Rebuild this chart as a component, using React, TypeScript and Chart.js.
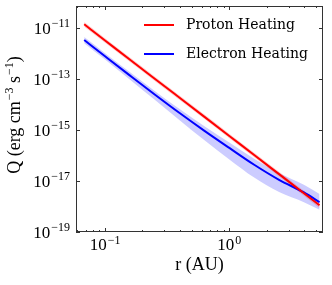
import React, { useEffect, useRef } from "react";
import { Chart, registerables } from "chart.js";

Chart.register(...registerables);

// heliocentric distance (AU)
const radius = [0.068, 0.1, 0.158, 0.251, 0.398, 0.631, 1.0, 1.585, 2.512, 3.981, 5.32];

// heating rates (erg cm^-3 s^-1)
const protonHeating = [1.43e-11, 3.33e-12, 5.92e-13, 1.05e-13, 1.87e-14, 3.33e-15, 5.92e-16, 1.05e-16, 1.87e-17, 3.33e-18, 1.12e-18];
const protonUpper = [1.76e-11, 4.1e-12, 7.28e-13, 1.29e-13, 2.3e-14, 4.1e-15, 7.28e-16, 1.29e-16, 2.3e-17, 4.19e-18, 1.48e-18];
const protonLower = [1.16e-11, 2.71e-12, 4.81e-13, 8.54e-14, 1.52e-14, 2.71e-15, 4.81e-16, 8.54e-17, 1.52e-17, 2.64e-18, 8.5e-19];

const electronHeating = [3.44e-12, 7.98e-13, 1.42e-13, 2.52e-14, 4.7e-15, 9.38e-16, 2.0e-16, 4.37e-17, 1.12e-17, 3.56e-18, 1.48e-18];
const electronUpper = [4.53e-12, 1.05e-12, 1.91e-13, 3.48e-14, 6.79e-15, 1.42e-15, 3.25e-16, 7.59e-17, 2.09e-17, 7.11e-18, 3.09e-18];
const electronLower = [2.61e-12, 5.92e-13, 9.82e-14, 1.56e-14, 2.47e-15, 4.0e-16, 7.11e-17, 1.38e-17, 3.72e-18, 1.49e-18, 7.41e-19];

const seriesLabels = ["Proton Heating", "Electron Heating"];
const xTitle = "r (AU)";
const yTitleParts = [["Q (erg cm", ""], ["\u22123", "sup"], [" s", ""], ["\u22121", "sup"], [")", ""]];

const yTickValues = [1e-19, 1e-17, 1e-15, 1e-13, 1e-11];
const xTickValues = [0.06, 0.07, 0.08, 0.09, 0.1, 0.2, 0.3, 0.4, 0.5, 0.6, 0.7, 0.8, 0.9, 1, 2, 3, 4, 5];
const xMajorTicks = [0.1, 1];

const BASE_FONT = "17px 'Liberation Serif'";
const SUP_FONT = "12px 'Liberation Serif'";

const expText = (v: number) => {
  const e = Math.round(Math.log10(v));
  return (e < 0 ? "\u2212" : "") + String(Math.abs(e));
};

const pts = (ys: number[]) => ys.map((y, i) => ({ x: radius[i], y }));

function drawPow(ctx: CanvasRenderingContext2D, v: number, x: number, baseline: number, align: "right" | "center") {
  const exp = expText(v);
  ctx.font = BASE_FONT;
  const w1 = ctx.measureText("10").width;
  ctx.font = SUP_FONT;
  const w2 = ctx.measureText(exp).width;
  const total = w1 + 1 + w2;
  const start = align === "right" ? x - total : x - total / 2;
  ctx.textAlign = "left";
  ctx.textBaseline = "alphabetic";
  ctx.font = BASE_FONT;
  ctx.fillText("10", start, baseline);
  ctx.font = SUP_FONT;
  ctx.fillText(exp, start + w1 + 1, baseline - 6.5);
}

const framePlugin = {
  id: "frameTicks",
  afterDatasetsDraw(chart: any) {
    const { ctx, chartArea, scales } = chart;
    const { left, right, top, bottom } = chartArea;
    ctx.save();
    ctx.strokeStyle = "#333";
    ctx.lineWidth = 1;
    ctx.strokeRect(left + 0.5, top + 0.5, right - left - 1, bottom - top - 1);
    ctx.beginPath();
    for (const t of scales.x.ticks) {
      const px = Math.round(scales.x.getPixelForValue(t.value)) + 0.5;
      const len = t.major ? 4 : 2;
      ctx.moveTo(px, bottom);
      ctx.lineTo(px, bottom - len);
      ctx.moveTo(px, top);
      ctx.lineTo(px, top + len);
    }
    for (const t of scales.y.ticks) {
      const py = Math.round(scales.y.getPixelForValue(t.value)) + 0.5;
      ctx.moveTo(left, py);
      ctx.lineTo(left + 4, py);
      ctx.moveTo(right, py);
      ctx.lineTo(right - 4, py);
    }
    ctx.stroke();

    // tick labels (10^n with real superscripts)
    ctx.fillStyle = "#000";
    for (const t of scales.y.ticks) {
      const py = scales.y.getPixelForValue(t.value);
      drawPow(ctx, t.value, left - 6, py + 5.5, "right");
    }
    for (const t of scales.x.ticks) {
      if (!t.major) continue;
      const px = scales.x.getPixelForValue(t.value);
      drawPow(ctx, t.value, px, bottom + 18, "center");
    }

    // y-axis title, rotated, with superscripts
    const cy = (top + bottom) / 2 - 4;
    let total = 0;
    for (const [s, kind] of yTitleParts) {
      ctx.font = kind === "sup" ? SUP_FONT : "18px 'Liberation Serif'";
      total += ctx.measureText(s).width + (kind === "sup" ? 1 : 0);
    }
    ctx.translate(20, cy);
    ctx.rotate(-Math.PI / 2);
    let x = -total / 2;
    for (const [s, kind] of yTitleParts) {
      if (kind === "sup") {
        ctx.font = SUP_FONT;
        ctx.fillText(s, x + 1, -7);
        x += ctx.measureText(s).width + 1;
      } else {
        ctx.font = "18px 'Liberation Serif'";
        ctx.fillText(s, x, 0);
        x += ctx.measureText(s).width;
      }
    }
    ctx.restore();
  },
};

const legendPlugin = {
  id: "insideLegend",
  afterDraw(chart: any) {
    const { ctx, chartArea } = chart;
    const { right, top } = chartArea;
    ctx.save();
    ctx.font = "14px 'DejaVu Serif'";
    ctx.textBaseline = "middle";
    ctx.textAlign = "left";
    ctx.fillStyle = "#000";
    [0, 1].forEach((i) => {
      const ds = chart.data.datasets[i];
      const y = top + 19 + i * 29;
      ctx.strokeStyle = ds.borderColor;
      ctx.lineWidth = 2;
      ctx.beginPath();
      ctx.moveTo(right - 179, y);
      ctx.lineTo(right - 149, y);
      ctx.stroke();
      ctx.fillText(ds.label, right - 137, y);
    });
    ctx.restore();
  },
};

export default function App() {
  const ref = useRef<HTMLCanvasElement>(null);
  useEffect(() => {
    if (!ref.current) return;
    const common = { pointRadius: 0, cubicInterpolationMode: "monotone" };
    const chart = new Chart(ref.current, {
      type: "line",
      data: {
        datasets: [
          { ...common, label: seriesLabels[0], data: pts(protonHeating), borderColor: "#ff0000", borderWidth: 2, fill: false },
          { ...common, label: seriesLabels[1], data: pts(electronHeating), borderColor: "#0000ff", borderWidth: 2, fill: false },
          { ...common, label: "proton range", data: pts(protonUpper), borderWidth: 0, backgroundColor: "rgba(255,0,0,0.2)", fill: "+1" },
          { ...common, label: "proton range low", data: pts(protonLower), borderWidth: 0, fill: false },
          { ...common, label: "electron range", data: pts(electronUpper), borderWidth: 0, backgroundColor: "rgba(0,0,255,0.2)", fill: "+1" },
          { ...common, label: "electron range low", data: pts(electronLower), borderWidth: 0, fill: false },
        ],
      },
      options: {
        animation: false,
        responsive: false,
        layout: { padding: { top: 6, right: 9, left: 0, bottom: 0 } },
        plugins: { legend: { display: false }, tooltip: { enabled: false } },
        scales: {
          x: {
            type: "logarithmic",
            min: 0.0584,
            max: 5.67,
            grid: { display: false, drawTicks: false },
            border: { display: false },
            afterBuildTicks: (scale: any) => {
              scale.ticks = xTickValues.map((v) => ({ value: v, major: xMajorTicks.includes(v) }));
            },
            afterFit: (scale: any) => {
              scale.height = 53;
              scale.paddingLeft = 0;
              scale.paddingRight = 0;
            },
            ticks: { display: false, autoSkip: false },
            title: {
              display: true,
              text: xTitle,
              color: "#000",
              font: { family: "'Liberation Serif'", size: 18 },
              padding: { top: 0, bottom: 9 },
            },
          },
          y: {
            type: "logarithmic",
            min: 1e-19,
            max: 7.5e-11,
            grid: { display: false, drawTicks: false },
            border: { display: false },
            afterBuildTicks: (scale: any) => {
              scale.ticks = yTickValues.map((v) => ({ value: v, major: true }));
            },
            afterFit: (scale: any) => {
              scale.width = 76;
              scale.paddingTop = 0;
              scale.paddingBottom = 0;
            },
            ticks: { display: false, autoSkip: false },
            title: { display: false },
          },
        },
      },
      plugins: [framePlugin, legendPlugin],
    } as any);
    return () => chart.destroy();
  }, []);
  return (
    <div style={{ position: "fixed", left: 0, top: 0, width: 332, height: 285, background: "#fff" }}>
      <canvas ref={ref} width={332} height={285} />
    </div>
  );
}
